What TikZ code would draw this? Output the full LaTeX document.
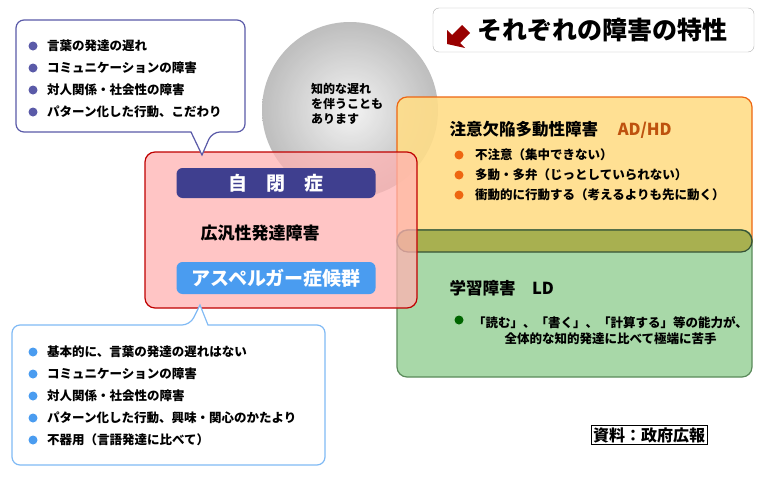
\documentclass[tikz,border=0pt]{standalone}
\usepackage{fontspec}
\setmainfont{Noto Sans CJK JP}
\newfontfamily\jpbase{Noto Sans CJK JP}
\newcommand\jpb{\jpbase\bfseries}
\usetikzlibrary{calc}
\definecolor{autblue}{HTML}{3F3F8F}
\definecolor{calloutblue}{HTML}{5A5AA8}
\definecolor{aspblue}{HTML}{4A9CF0}
\definecolor{adorange}{HTML}{EE6611}
\definecolor{adfill}{HTML}{FFDD88}
\definecolor{ldgreen}{HTML}{5A8A5A}
\definecolor{ldfill}{HTML}{A8D8A8}
\definecolor{bandfill}{HTML}{A8B050}
\tikzset{
  item/.style={anchor=west, font=\jpb\fontsize{12.5}{16}\selectfont, inner sep=1pt},
  dot/.style={circle, fill=#1, inner sep=0pt, minimum size=9pt},
  bar/.style={rounded corners=6pt, fill=#1, text=white, font=\jpb\fontsize{19}{22}\selectfont}
}
\begin{document}
\begin{tikzpicture}[x=1pt,y=-1pt]
                \useasboundingbox (0,0) rectangle (764,479);
                \fill[white] (0,0) rectangle (764,479);

                % Title
                \draw[gray!60, rounded corners=6pt, fill=white] (433,8) rectangle (754,52);
                \fill[red!60!black] (447,44) -- (447,30) -- (452,35) -- (462,25) -- (470,33) -- (460,43) -- (465,48) -- cycle;
                \node[anchor=west, font=\jpb\fontsize{25}{28}\selectfont] (title) at (474,30) {それぞれの障害の特性};

                % Gray circle
                \shade[inner color=gray!10, outer color=gray!60, opacity=0.85] (350,110) circle (88);
                \node[font=\jpb\fontsize{12}{15}\selectfont, align=left] (iq) at (347,104) {知的な遅れ\\を伴うことも\\あります};

                % AD/HD and LD boxes
                \draw[adorange, very thick, fill=adfill, rounded corners=10pt, fill opacity=0.9] (397,97) rectangle (752,252);
                \draw[ldgreen, very thick, fill=ldfill, rounded corners=10pt] (397,230) rectangle (752,377);
                \draw[ldgreen!60!black, very thick, fill=bandfill, rounded corners=11pt] (397,230) rectangle (752,252);
                \node[anchor=west, font=\jpb\fontsize{16.5}{19}\selectfont] (adhd) at (446,130) {注意欠陥多動性障害\hspace{1.2em}\textcolor{adorange!80!black}{AD/HD}};
                \foreach \y/\t in {155/不注意（集中できない）, 175/多動・多弁（じっとしていられない）, 195/衝動的に行動する（考えるよりも先に動く）}
                  \node[item] at (474,\y) {\t};
                \foreach \y in {155,175,195}
                  \node[dot=adorange] at (459,\y) {};
                \node[anchor=west, font=\jpb\fontsize{16.5}{19}\selectfont] (ld) at (446,288) {学習障害\hspace{1em}LD};
                \node[dot=green!40!black] (lddot) at (459,320) {};
                \node[item, align=center] (ldtext) at (472,331) {「読む」、「書く」、「計算する」等の能力が、\\全体的な知的発達に比べて極端に苦手};

                % PDD box
                \draw[red!75!black, very thick, fill=red!30, fill opacity=0.75, rounded corners=10pt] (145,152) rectangle (417,308);
                \node[bar=autblue, minimum width=199pt, minimum height=30pt] (aut) at (276,183) {自　閉　症};
                \node[font=\jpb\fontsize{17}{20}\selectfont] (pdd) at (260,233) {広汎性発達障害};
                \node[bar=aspblue, minimum width=199pt, minimum height=32pt] (asp) at (276,278) {アスペルガー症候群};

                % Top callout
                \draw[calloutblue, very thick, fill=white, rounded corners=8pt] (16,20) -- (245,20) -- (245,132) -- (212,132) [sharp corners] -- (202,155) -- (191,132) [rounded corners=8pt] -- (16,132) -- cycle;
                \foreach \y/\t in {46/言葉の発達の遅れ, 68/コミュニケーションの障害, 90/対人関係・社会性の障害, 112/パターン化した行動、こだわり}
                  \node[item] at (46,\y) {\t};
                \foreach \y in {46,68,90,112}
                  \node[dot=calloutblue] at (33,\y) {};

                % Bottom callout
                \draw[aspblue!70, very thick, fill=white, rounded corners=8pt] (12,325) -- (190,325) [sharp corners] -- (200,305) -- (208,325) [rounded corners=8pt] -- (325,325) -- (325,465) -- (12,465) -- cycle;
                \foreach \y/\t in {352/基本的に、言葉の発達の遅れはない, 374/コミュニケーションの障害, 396/対人関係・社会性の障害, 418/パターン化した行動、興味・関心のかたより, 440/不器用（言語発達に比べて）}
                  \node[item] at (46,\y) {\t};
                \foreach \y in {352,374,396,418,440}
                  \node[dot=aspblue] at (33,\y) {};

                % Source
                \node[draw, thick, font=\jpb\fontsize{16}{18}\selectfont, inner sep=2pt] (src) at (649,435) {資料：政府広報};
\end{tikzpicture}
\end{document}
